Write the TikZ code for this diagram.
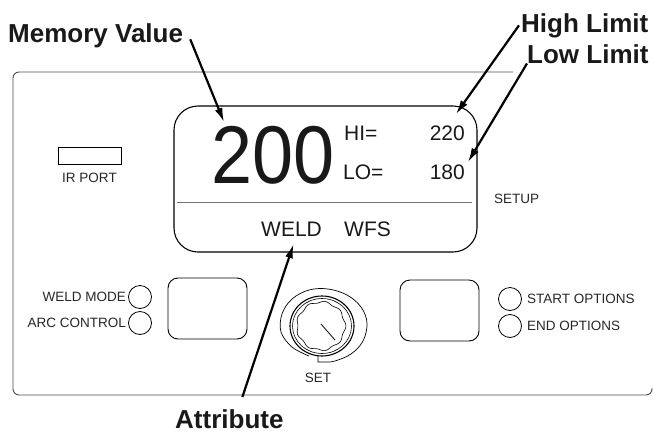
\documentclass[tikz,border=0pt]{standalone}
\usepackage{fontspec}
\setmainfont{Liberation Sans}
\usetikzlibrary{positioning,arrows.meta}

\begin{document}
\begin{tikzpicture}[
  x=1pt, y=-1pt,
  callout/.style={font=\fontsize{26}{26}\selectfont\bfseries, inner sep=0pt, text=black!90},
  panel/.style={font=\fontsize{13.5}{14}\selectfont, inner sep=0pt, text=black!85},
  lcd/.style={font=\fontsize{21}{21}\selectfont, inner sep=0pt, text=black!90},
  led/.style={draw, circle, minimum size=23pt, inner sep=0pt, line width=0.8pt},
  key/.style={draw, rounded corners=10pt, line width=0.9pt},
  ptr/.style={-{Latex[length=14pt,width=8pt]}, line width=2.2pt}
]
\useasboundingbox (0,0) rectangle (654,432);

\draw[black!70, line width=0.9pt, rounded corners=6pt] (513,72) -- (13,72) -- (13,395) -- (652,395) -- (652,388);

\draw[line width=1.1pt, rounded corners=24pt] (174,106) rectangle (477,252);
\draw[black!55, line width=0.8pt] (177,202) -- (472,202);

\node[anchor=base west, inner sep=0pt, font=\fontsize{82}{82}\selectfont, text=black!90] (memval) at (211,183) {\scalebox{0.9}[1]{200}};
\node[lcd, anchor=base west] (hitxt) at (344,140) {HI=};
\node[lcd, anchor=base east] (hival) at (465,140) {220};
\node[lcd, anchor=base west] (lotxt) at (343,179) {LO=};
\node[lcd, anchor=base east] (loval) at (465,179) {180};
\node[lcd, anchor=base west] (weld) at (261,236) {WELD};
\node[lcd, anchor=base west] (wfs) at (344,236) {WFS};

\draw[line width=0.8pt] (58,147) rectangle (121,164) coordinate (irport);
\node[panel, anchor=base] (irlbl) at (89.5,182) {IR PORT};
\node[panel, anchor=base west] (setup) at (494,203) {SETUP};

\node[led] (wmled) at (140,297) {};
\node[led] (acled) at (140,323) {};
\node[led] (soled) at (510,299) {};
\node[led] (eoled) at (510,326) {};
\foreach \l/\t in {wmled/WELD MODE, acled/ARC CONTROL}
  \node[panel, left=2pt of \l] {\t};
\foreach \l/\t in {soled/START OPTIONS, eoled/END OPTIONS}
  \node[panel, right=5pt of \l] {\t};

\draw[key] (168,278) rectangle (247,339);
\draw[key] (400,280) rectangle (479,341);

\coordinate (knob) at (321,326);
\draw[line width=0.7pt] plot[smooth, tension=0.6] coordinates {(309,356) (292,347) (281,332) (282,314) (292,299) (309,290) (328,289) (347,295) (361,307) (367,323) (363,341) (351,354) (335,361) (326,362)} -- (318,362) -- (318,356);
\draw[line width=1.1pt] ([xshift=1pt]knob) ellipse [x radius=32pt, y radius=30pt];
\draw[line width=0.6pt] ([xshift=1pt]knob) ellipse [x radius=29.5pt, y radius=27.5pt];
\draw[line width=0.6pt] plot[domain=0:360, samples=121, smooth] ({321+(24+0.9*cos(9*\x))*cos(\x)}, {326+(24+0.9*cos(9*\x))*sin(\x)}) -- cycle;
\draw[line width=0.8pt] (321,324) -- (335,340);
\node[panel, anchor=base] (setlbl) at (318,382) {SET};

\node[callout, anchor=base west] (memlbl) at (8,42) {Memory Value};
\node[callout, anchor=base west] (hilbl) at (521,32) {High Limit};
\node[callout, anchor=base west] (lolbl) at (527,63) {Low Limit};
\node[callout, anchor=base west] (attrlbl) at (175,428) {Attribute};

\coordinate (memtip) at (224,122);
\coordinate (hitip) at (456,114);
\coordinate (lotip) at (468,162);

\draw[ptr] ([xshift=7pt,yshift=-4pt]memlbl.east) -- (memtip);
\draw[ptr] ([xshift=-2pt]hilbl.west) -- (hitip);
\draw[ptr] (lolbl.south west) -- (lotip);
\draw[ptr] ([xshift=13pt,yshift=12pt]attrlbl.north) -- ([xshift=2pt,yshift=-8pt]weld.south);
\end{tikzpicture}
\end{document}
